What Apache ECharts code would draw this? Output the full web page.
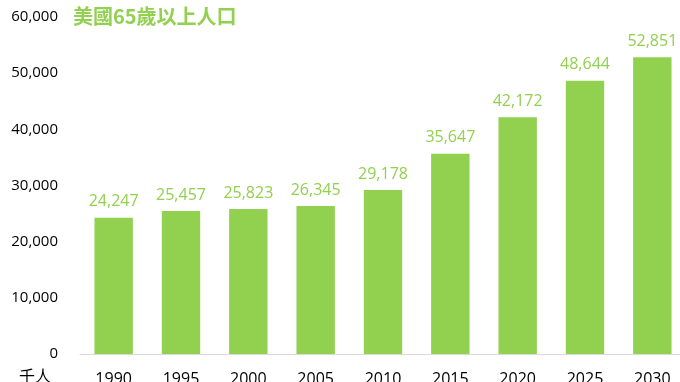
<!DOCTYPE html>
<html><head><meta charset="utf-8">
<script src="https://cdn.jsdelivr.net/npm/echarts@6/dist/echarts.min.js"></script>
<style>html,body{margin:0;padding:0;background:#fff}#c{width:680px;height:382px}</style>
</head><body><div id="c"></div>
<script>
const categories = ['1990','1995','2000','2005','2010','2015','2020','2025','2030'];
const values = [24247, 25457, 25823, 26345, 29178, 35647, 42172, 48644, 52851];
const yTicks = [0, 10000, 20000, 30000, 40000, 50000, 60000];
const titleText = '美國65歲以上人口';
const unitText = '千人';
const green = '#92D050';
const fam = '"Open Sans","Noto Sans CJK TC",sans-serif';
const chart = echarts.init(document.getElementById('c'));
chart.setOption({
  animation: false,
  title: { text: titleText, left: 68, top: 1, textStyle: { color: green, fontSize: 20, fontWeight: 'bold', fontFamily: '"Noto Sans CJK TC",sans-serif' } },
  graphic: [{ type: 'text', left: 19, top: 368, style: { text: unitText, fontSize: 16, fill: '#000', fontFamily: '"Noto Sans CJK TC",sans-serif' } }],
  grid: { left: 80, right: -6, top: 17, bottom: 28, containLabel: false, outerBoundsMode: 'none' },
  xAxis: { type: 'category', data: categories,
    axisLine: { lineStyle: { color: '#d9d9d9', width: 1 } }, axisTick: { show: false },
    axisLabel: { color: '#000', fontSize: 16, margin: 17, fontFamily: fam } },
  yAxis: { type: 'value', min: yTicks[0], max: yTicks[yTicks.length-1], interval: 10000,
    splitLine: { show: false }, axisLine: { show: false }, axisTick: { show: false },
    axisLabel: { color: '#000', fontSize: 15, margin: 22, fontFamily: fam,
      formatter: v => v.toLocaleString('en-US') } },
  series: [{ type: 'bar', data: values, barWidth: '57%', itemStyle: { color: green },
    label: { show: true, position: 'top', distance: 8, color: green, fontSize: 16, fontFamily: fam,
      formatter: p => p.value.toLocaleString('en-US') } }]
});
</script></body></html>
